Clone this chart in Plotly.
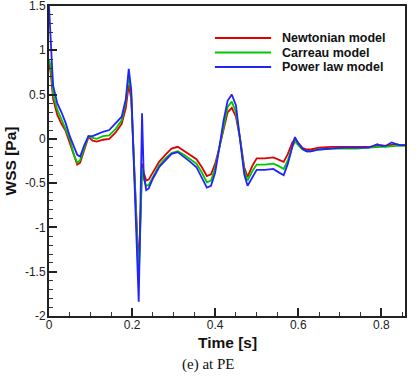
import plotly.graph_objects as go

# time axis shared by the three series [s]
time_s = [0, 0.004, 0.007, 0.01, 0.02, 0.03, 0.04, 0.05, 0.06, 0.068, 0.075, 0.085, 0.095,
          0.105, 0.115, 0.13, 0.145, 0.16, 0.175, 0.185, 0.192, 0.198, 0.205, 0.212, 0.216,
          0.22, 0.224, 0.228, 0.234, 0.24, 0.25, 0.265, 0.28, 0.295, 0.31, 0.325, 0.34,
          0.355, 0.368, 0.38, 0.39, 0.40, 0.41, 0.42, 0.43, 0.44, 0.45, 0.46, 0.47, 0.478,
          0.49, 0.50, 0.52, 0.54, 0.55, 0.565, 0.575, 0.585, 0.592, 0.60, 0.61, 0.62, 0.63,
          0.65, 0.68, 0.71, 0.74, 0.77, 0.79, 0.80, 0.81, 0.825, 0.835, 0.845, 0.857]

wss_newtonian = [0.85, 0.75, 0.6, 0.45, 0.27, 0.17, 0.09, -0.05, -0.2, -0.29, -0.27, -0.12, 0.02,
                 -0.02, -0.03, -0.01, 0.0, 0.07, 0.17, 0.35, 0.61, 0.45, -0.3, -1.2, -1.48,
                 -0.9, -0.28, -0.38, -0.47, -0.46, -0.38, -0.26, -0.18, -0.11, -0.09, -0.14, -0.19,
                 -0.23, -0.32, -0.42, -0.40, -0.28, -0.1, 0.12, 0.3, 0.35, 0.25, 0.0, -0.32, -0.43,
                 -0.3, -0.22, -0.22, -0.21, -0.23, -0.26, -0.17, -0.05, 0.0, -0.05, -0.1, -0.12, -0.12,
                 -0.1, -0.09, -0.09, -0.09, -0.09, -0.08, -0.07, -0.08, -0.07, -0.06, -0.07, -0.07]

wss_carreau = [0.9, 0.82, 0.68, 0.5, 0.33, 0.22, 0.12, 0.0, -0.18, -0.27, -0.24, -0.1, 0.03,
               0.01, 0.0, 0.03, 0.04, 0.11, 0.21, 0.42, 0.72, 0.5, -0.35, -1.3, -1.58,
               -1.0, -0.33, -0.45, -0.53, -0.52, -0.43, -0.3, -0.22, -0.16, -0.14, -0.18, -0.23,
               -0.28, -0.38, -0.49, -0.47, -0.33, -0.1, 0.15, 0.36, 0.42, 0.3, 0.0, -0.36, -0.47,
               -0.36, -0.29, -0.29, -0.28, -0.3, -0.34, -0.24, -0.1, -0.03, -0.07, -0.12, -0.14, -0.14,
               -0.12, -0.11, -0.11, -0.11, -0.1, -0.09, -0.09, -0.09, -0.08, -0.08, -0.08, -0.08]

wss_power_law = [1.5, 1.2, 0.85, 0.6, 0.4, 0.3, 0.18, 0.03, -0.1, -0.18, -0.2, -0.07, 0.03,
                 0.03, 0.05, 0.08, 0.1, 0.18, 0.25, 0.45, 0.79, 0.55, -0.4, -1.5, -1.84,
                 -0.8, 0.29, -0.4, -0.58, -0.56, -0.45, -0.32, -0.24, -0.17, -0.15, -0.2, -0.26,
                 -0.32, -0.45, -0.55, -0.53, -0.38, -0.1, 0.2, 0.43, 0.5, 0.38, 0.02, -0.4, -0.53,
                 -0.43, -0.35, -0.35, -0.34, -0.37, -0.41, -0.28, -0.1, 0.02, -0.05, -0.11, -0.14, -0.14,
                 -0.12, -0.11, -0.1, -0.1, -0.1, -0.06, -0.08, -0.08, -0.04, -0.06, -0.07, -0.07]

series_names = ["Newtonian model", "Carreau model", "Power law model"]
series_colors = ["#e00000", "#00c800", "#2222ff"]

x_ticks = [0, 0.2, 0.4, 0.6, 0.8]
x_labels = ["0", "0.2", "0.4", "0.6", "0.8"]
y_ticks = [-2, -1.5, -1, -0.5, 0, 0.5, 1, 1.5]
y_labels = ["-2", "-1.5", "-1", "-0.5", "0", "0.5", "1", "1.5"]

fig = go.Figure()
for name, color, values in zip(series_names, series_colors,
                               [wss_newtonian, wss_carreau, wss_power_law]):
    fig.add_trace(go.Scatter(x=time_s, y=values, mode="lines", name=name,
                             line=dict(color=color, width=1.8), showlegend=False))

# hand-made legend (tighter rows than plotly's own legend)
for i, (name, color) in enumerate(zip(series_names, series_colors)):
    ly = 0.897 - i * 0.047
    fig.add_shape(type="line", xref="paper", yref="paper", x0=0.466, x1=0.624, y0=ly, y1=ly,
                  line=dict(color=color, width=2))
    fig.add_annotation(xref="paper", yref="paper", x=0.648, y=ly, text="<b>%s</b>" % name,
                       showarrow=False, xanchor="left", yanchor="middle",
                       font=dict(family="Liberation Sans, Arial", size=12.5, color="#111"))

axis_font = dict(family="Liberation Sans, Arial", size=12, color="#222")
title_font = dict(family="Liberation Sans, Arial", size=15.5, color="#111")

fig.update_xaxes(
    range=[0, 0.857], tickvals=x_ticks, ticktext=x_labels, ticks="inside", ticklen=8,
    tickwidth=2, tickcolor="#222", showline=True, linecolor="#222", linewidth=2, mirror=True,
    showgrid=False, zeroline=False, tickfont=axis_font, automargin=False,
    ticklabeloverflow="allow", ticklabelstandoff=-3,
    minor=dict(ticks="inside", ticklen=4, tickwidth=1, tickcolor="#333", dtick=0.05),
)
fig.update_yaxes(
    range=[-2, 1.5], tickvals=y_ticks, ticktext=y_labels, ticks="inside", ticklen=8,
    tickwidth=2, tickcolor="#222", showline=True, linecolor="#222", linewidth=2, mirror=True,
    showgrid=False, zeroline=False, tickfont=axis_font, automargin=False,
    ticklabeloverflow="allow", ticklabelstandoff=-1,
    minor=dict(ticks="inside", ticklen=4, tickwidth=1, tickcolor="#333", dtick=0.1),
    title=dict(text="<b>WSS [Pa]</b>", font=title_font, standoff=4),
)

# x-axis title placed by hand so it sits as close to the tick labels as in the original
fig.add_annotation(xref="paper", yref="paper", x=0.5, y=-0.084, text="<b>Time [s]</b>",
                   showarrow=False, xanchor="center", yanchor="middle", font=title_font)

fig.add_annotation(xref="paper", yref="paper", x=0.447, y=-0.156, text="(e) at PE", showarrow=False,
                   xanchor="center", yanchor="middle",
                   font=dict(family="Liberation Serif, Times New Roman", size=15, color="#111"))

fig.update_layout(
    width=416, height=379,
    margin=dict(l=49, r=11, t=6, b=63),
    plot_bgcolor="white", paper_bgcolor="white",
)

fig.write_html("out.html", config={"displayModeBar": False},
               post_script="document.body.style.margin='0';")
